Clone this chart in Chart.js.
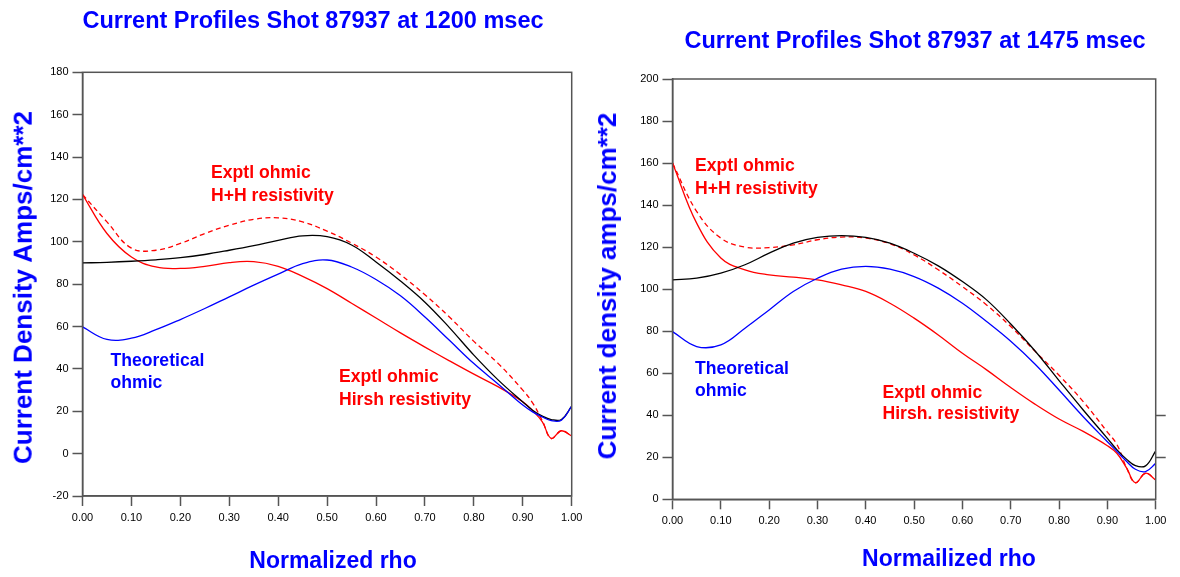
<!DOCTYPE html>
<html><head><meta charset="utf-8">
<script src="https://cdn.jsdelivr.net/npm/chart.js@4.4.0/dist/chart.umd.min.js"></script>
<style>
html,body{margin:0;padding:0;background:#fff;width:1180px;height:577px;overflow:hidden;}
#wrap{position:relative;width:1180px;height:577px;}
.box{position:absolute;top:0;width:590px;height:577px;}
.t{position:absolute;left:0;top:0;white-space:nowrap;font-family:"Liberation Sans",Arial,sans-serif;font-weight:bold;line-height:1;transform-origin:0 0;}
</style></head><body>
<div id="wrap">
<div class="box" style="left:0"><canvas id="c1" width="590" height="577"></canvas></div>
<div class="box" style="left:590px"><canvas id="c2" width="590" height="577"></canvas></div>
</div>
<script>
// ---- data ----
const rho = [0,0.05,0.1,0.15,0.2,0.25,0.3,0.35,0.4,0.45,0.5,0.55,0.6,0.65,0.7,0.75,0.8,0.85,0.9,0.92,0.94,0.958,0.979,1.0];

// Shot 87937 at 1200 msec
const total1200     = [90.0,90.3,90.8,91.5,92.5,94.0,96.0,98.2,100.7,102.8,102.4,98.5,90.5,81.5,71.5,59.5,46.5,34.7,24.4,20.5,17.7,16.1,16.1,22.4];
const theory1200    = [59.8,53.9,54.5,58.5,63.3,68.5,74.0,79.5,84.7,89.7,91.4,88.1,82.2,74.5,64.5,53.5,42.5,32.8,22.9,19.7,17.3,15.6,15.8,22.4];
const exptlHH1200   = [122.3,109.4,97.0,96.0,99.2,103.9,107.8,110.6,111.3,109.4,105.0,99.4,92.8,84.5,75.0,64.5,53.0,42.5,30.0,24.0,15.5,7.2,10.8,8.3];
const exptlHir1200  = [122.3,103.9,92.8,88.1,87.4,88.4,90.2,90.6,88.4,83.7,77.9,71.0,64.0,57.0,50.3,43.8,37.5,31.5,24.5,20.3,15.0,7.2,10.8,8.3];

// Shot 87937 at 1475 msec
const total1475     = [104.4,105.2,107.6,111.6,117.1,121.9,124.6,125.5,124.6,121.9,117.1,111.1,103.6,94.9,83.4,70.7,56.5,42.5,29.0,23.5,19.0,16.0,15.9,23.0];
const theory1475    = [79.8,72.7,73.5,81.4,90.1,98.9,105.2,109.5,110.8,109.5,106.0,100.5,93.3,84.6,75.2,64.4,52.0,39.3,27.4,22.7,18.0,14.3,13.2,17.1];
const exptlHH1475   = [160.0,137.0,124.3,120.0,119.8,121.1,123.5,124.8,124.3,121.6,116.3,109.2,101.2,92.5,82.2,70.5,59.0,46.5,32.0,26.0,14.8,7.9,12.4,9.2];
const exptlHir1475  = [160.0,131.4,114.8,109.2,106.8,105.7,104.4,102.0,98.9,93.3,86.2,78.2,69.5,61.6,53.2,45.3,38.2,32.3,25.5,21.8,14.8,7.9,12.4,9.2];

const yRange1200 = [-20, 180];
const yRange1475 = [0, 200];
const rightTicks1475 = [20, 40];

// ---- styling ----
const AX = '#555';
const FONT = '"Liberation Sans", Arial, sans-serif';

function ds(vals, color, dash){
  return {data: rho.map((r,i)=>({x:r, y:vals[i]})), borderColor:color, borderWidth:1.3,
    borderDash: dash || [], pointRadius:0, fill:false, tension:0.4};
}

const framePlugin = {id:'frame', afterDraw(chart){
  const {ctx, chartArea:a} = chart; ctx.save(); ctx.strokeStyle=AX; ctx.lineWidth=1.5;
  ctx.strokeRect(a.left, a.top, a.right-a.left, a.bottom-a.top); ctx.restore();
}};

function makeChart(id, sets, yr, xH, padTop, padRight, extraRight){
  const scales = {
    x: {type:'linear', min:0, max:1, afterFit:s=>{s.height=xH;},
      border:{display:true,color:AX,width:1.5},
      grid:{display:true, drawOnChartArea:false, drawTicks:true, tickLength:10, tickColor:AX, tickWidth:1.5},
      ticks:{stepSize:0.1, padding:5, color:'#000', font:{family:FONT,size:11}, maxRotation:0, autoSkip:false,
        callback:v=>Number(v).toFixed(2)}},
    y: {type:'linear', min:yr[0], max:yr[1], afterFit:s=>{s.width=82.5;},
      border:{display:true,color:AX,width:1.5},
      grid:{display:true, drawOnChartArea:false, drawTicks:true, tickLength:10, tickColor:AX, tickWidth:1.5},
      ticks:{stepSize:20, padding:4, color:'#000', font:{family:FONT,size:11}}}
  };
  if (extraRight){
    scales.y2 = {type:'linear', position:'right', min:yr[0], max:yr[1], afterFit:s=>{s.width=10;},
      afterBuildTicks:s=>{s.ticks = extraRight.map(v=>({value:v}));},
      border:{display:false},
      grid:{display:true, drawOnChartArea:false, drawTicks:true, tickLength:10, tickColor:AX, tickWidth:1.5},
      ticks:{display:false}};
  }
  return new Chart(document.getElementById(id), {
    type:'line',
    data:{datasets:sets},
    options:{responsive:false, animation:false, events:[],
      layout:{padding:{left:0, top:padTop, right:padRight, bottom:0}},
      plugins:{legend:{display:false}, tooltip:{enabled:false}, title:{display:false}},
      scales},
    plugins:[framePlugin]
  });
}

makeChart('c1', [
  ds(theory1200,'#0000ff'), ds(total1200,'#000000'), ds(exptlHir1200,'#ff0000'), ds(exptlHH1200,'#ff0000',[5,3.5])
], yRange1200, 81, 72.3, 18.3, null);

makeChart('c2', [
  ds(theory1475,'#0000ff'), ds(total1475,'#000000'), ds(exptlHir1475,'#ff0000'), ds(exptlHH1475,'#ff0000',[5,3.5])
], yRange1475, 77.7, 79, 14.3, rightTicks1475);

// ---- text ----
const wrap = document.getElementById('wrap');
function txt(s, x, baseline, size, color, center, rot){
  const d = document.createElement('div'); d.className='t'; d.textContent=s;
  d.style.fontSize=size+'px'; d.style.color=color;
  const top = baseline - 0.8465*size;
  if (rot){
    d.style.transform = `translate(${top}px, ${x}px) rotate(-90deg) translateX(-50%)`;
  } else {
    d.style.transform = `translate(${x}px, ${top}px)` + (center ? ' translateX(-50%)' : '');
  }
  wrap.appendChild(d);
}
const B='#0000ff', R='#ff0000';
txt('Current Profiles Shot 87937 at 1200 msec', 313, 29, 23.5, B, true);
txt('Current Profiles Shot 87937 at 1475 msec', 915, 49, 23.5, B, true);
txt('Current Density Amps/cm**2', 287.5, 31.7, 26, B, true, true);
txt('Current density amps/cm**2', 286, 616, 26, B, true, true);
txt('Normalized rho', 333, 568, 23, B, true);
txt('Normailized rho', 949, 566, 23, B, true);

txt('Exptl ohmic', 211, 179.3, 17.6, R);
txt('H+H resistivity', 211, 201.7, 17.6, R);
txt('Theoretical', 110.5, 367.3, 17.6, B);
txt('ohmic', 110.5, 389.3, 17.6, B);
txt('Exptl ohmic', 339, 383.3, 17.6, R);
txt('Hirsh resistivity', 339, 406, 17.6, R);

txt('Exptl ohmic', 695, 172.3, 17.6, R);
txt('H+H resistivity', 695, 195, 17.6, R);
txt('Theoretical', 695, 375, 17.6, B);
txt('ohmic', 695, 397.3, 17.6, B);
txt('Exptl ohmic', 882.5, 399.3, 17.6, R);
txt('Hirsh. resistivity', 882.5, 420, 17.6, R);
</script>
</body></html>
